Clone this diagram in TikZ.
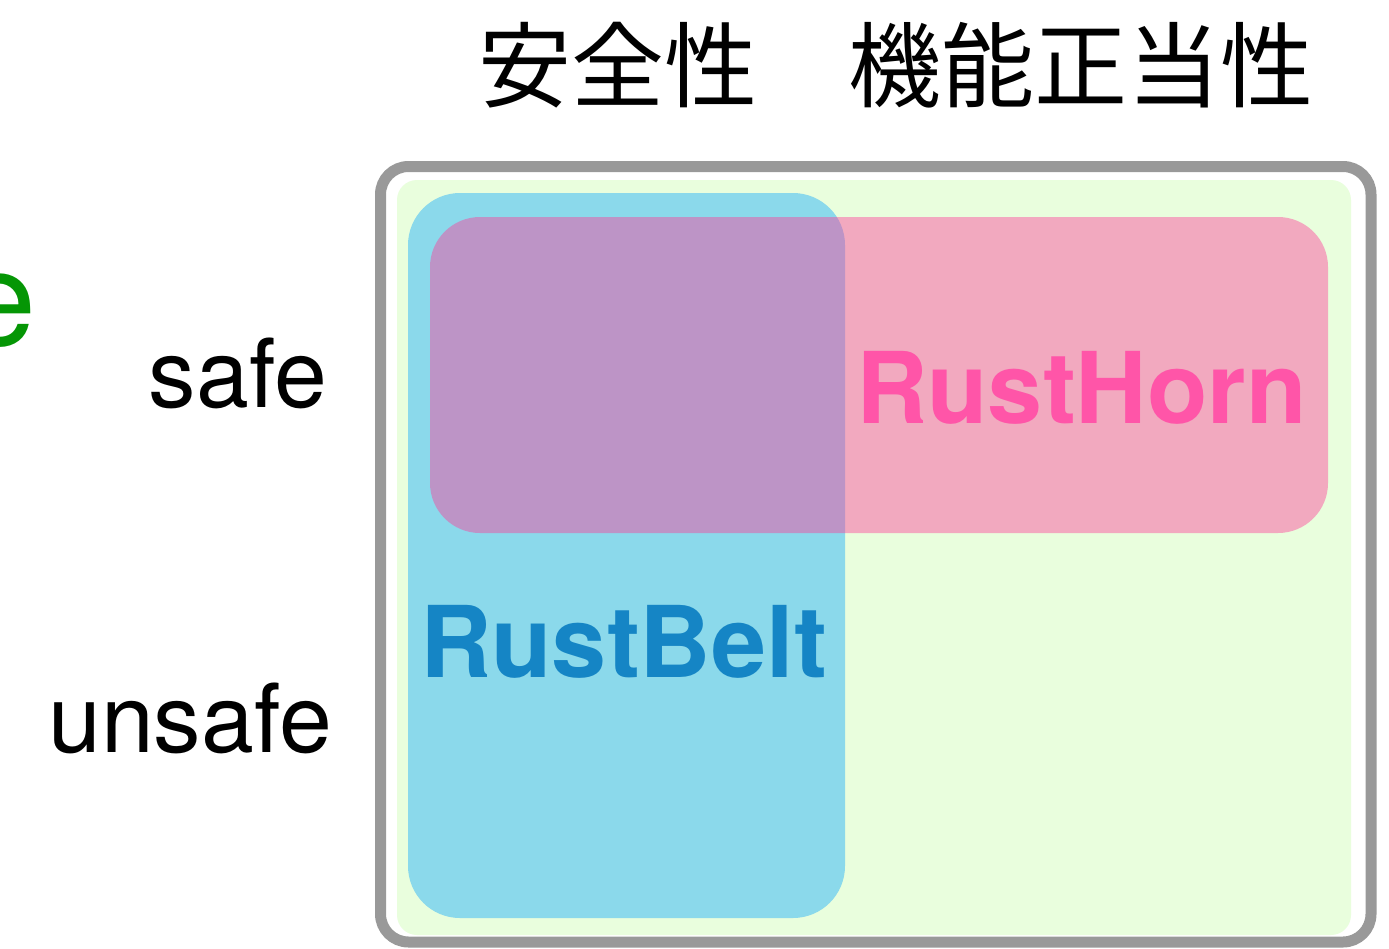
\documentclass[tikz,border=0pt]{standalone}
\usepackage{fontspec}
\setmainfont{TeX Gyre Heros}
\newfontfamily\cjk{Noto Sans CJK JP}
\definecolor{frame}{RGB}{153,153,153}
\definecolor{greenbg}{RGB}{233,254,221}
\definecolor{bluebox}{RGB}{139,217,235}
\definecolor{pinkbox}{RGB}{255,62,153}
\definecolor{hornc}{RGB}{255,85,168}
\definecolor{beltc}{RGB}{21,133,197}
\definecolor{greene}{RGB}{5,150,5}
\tikzset{
  lbl/.style={inner sep=0pt, outer sep=0pt, font=\fontsize{95}{100}\selectfont},
  cjklbl/.style={inner sep=0pt, outer sep=0pt, font=\cjk\fontsize{93}{100}\selectfont},
  bigname/.style={inner sep=0pt, outer sep=0pt, font=\bfseries\fontsize{99}{105}\selectfont},
}
\begin{document}
\begin{tikzpicture}[x=1pt,y=-1pt]
\useasboundingbox (0,0) rectangle (1389,948);
\fill[white] (0,0) rectangle (1389,948);
% frame
\draw[frame, line width=11pt, rounded corners=28pt] (380.5,166.5) rectangle (1371,942);
\fill[greenbg, rounded corners=20pt] (397,180) rectangle (1351,935);
% RustBelt box
\fill[bluebox, rounded corners=52pt] (408,193) rectangle (845,918);
% RustHorn box
\fill[pinkbox, fill opacity=0.44, rounded corners=50pt] (430,217) rectangle (1328,533);
% labels
\node[cjklbl, anchor=base west] (anzen) at (478,100) {安全性};
\node[cjklbl, anchor=base west] (kino) at (848,100) {機能正当性};
\node[lbl, anchor=base east] (safe) at (327,407) {safe};
\node[lbl, anchor=base east] (unsafe) at (332,752) {unsafe};
\node[inner sep=0pt, anchor=base east, text=greene, font=\fontsize{133}{140}\selectfont] (ge) at (37,345) {e};
\node[bigname, anchor=base west, text=hornc] (horn) at (856,423) {RustHorn};
\node[bigname, anchor=base west, text=beltc] (belt) at (420,677) {RustBelt};
\end{tikzpicture}
\end{document}
